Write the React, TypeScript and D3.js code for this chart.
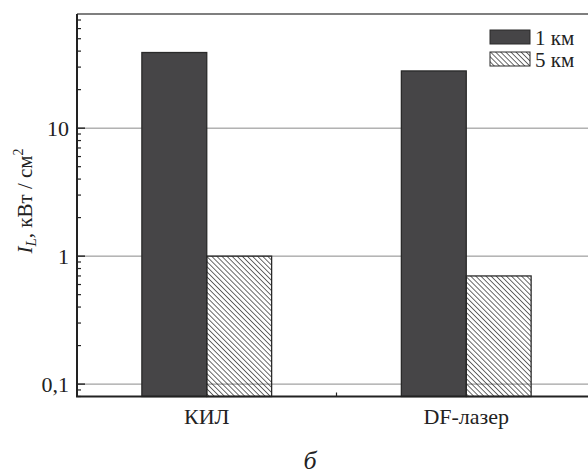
import React, { useEffect, useRef } from "react";
import * as d3 from "d3";

const categories = ["КИЛ", "DF-лазер"];
const seriesNames = ["1 км", "5 км"];
const values1km = [39, 28];
const values5km = [1.0, 0.7];
const yTickValues = [0.1, 1, 10];
const yTickLabels = ["0,1", "1", "10"];

const W = 588;
const H = 475;
const M = { left: 77, top: 14, right: 596, bottom: 396.5 };
const FONT = "'Liberation Serif', 'DejaVu Serif', serif";

export default function App() {
  const ref = useRef<SVGSVGElement>(null);

  useEffect(() => {
    const svg = d3.select(ref.current!);
    svg.selectAll("*").remove();

    const defs = svg.append("defs");
    const pat = defs
      .append("pattern")
      .attr("id", "hatch")
      .attr("patternUnits", "userSpaceOnUse")
      .attr("width", 3.6)
      .attr("height", 3.6)
      .attr("patternTransform", "rotate(-45)");
    pat
      .append("line")
      .attr("x1", 0)
      .attr("y1", 0)
      .attr("x2", 0)
      .attr("y2", 3.6)
      .attr("stroke", "#1a1a1a")
      .attr("stroke-width", 1.3);

    const y = d3.scaleLog().domain([0.08, 78]).range([M.bottom, M.top]);
    const x = d3.scaleBand<string>().domain(categories).range([M.left, M.right]).padding(0);
    const bw = x.bandwidth();
    const xs = d3.scaleBand<string>().domain(seriesNames).range([bw * 0.25, bw * 0.75]).padding(0);

    // gridlines
    svg
      .append("g")
      .selectAll("line")
      .data(yTickValues)
      .join("line")
      .attr("x1", M.left)
      .attr("x2", M.right)
      .attr("y1", (d) => y(d))
      .attr("y2", (d) => y(d))
      .attr("stroke", "#8a8a8a")
      .attr("stroke-width", 1);

    // bars
    const data = categories.map((c, i) => ({ c, v: [values1km[i], values5km[i]] }));
    const g = svg
      .append("g")
      .selectAll("g")
      .data(data)
      .join("g")
      .attr("transform", (d) => `translate(${x(d.c)},0)`);
    g.selectAll("rect")
      .data((d) => d.v.map((v, j) => ({ v, s: seriesNames[j], j })))
      .join("rect")
      .attr("x", (d) => xs(d.s)!)
      .attr("width", xs.bandwidth())
      .attr("y", (d) => y(d.v))
      .attr("height", (d) => M.bottom - y(d.v))
      .attr("fill", (d) => (d.j === 0 ? "#464547" : "url(#hatch)"))
      .attr("stroke", "#2a2a2a")
      .attr("stroke-width", 1.3);

    // top frame line
    svg
      .append("line")
      .attr("x1", M.left)
      .attr("x2", M.right)
      .attr("y1", M.top)
      .attr("y2", M.top)
      .attr("stroke", "#555")
      .attr("stroke-width", 1.5);

    // left axis
    svg
      .append("line")
      .attr("x1", M.left)
      .attr("x2", M.left)
      .attr("y1", M.top)
      .attr("y2", M.bottom)
      .attr("stroke", "#222")
      .attr("stroke-width", 2);
    const minor = y.ticks().filter((t) => !yTickValues.includes(t));
    svg
      .append("g")
      .selectAll("line")
      .data(minor)
      .join("line")
      .attr("x1", M.left)
      .attr("x2", M.left + 4)
      .attr("y1", (d) => y(d))
      .attr("y2", (d) => y(d))
      .attr("stroke", "#222")
      .attr("stroke-width", 1.2);
    svg
      .append("g")
      .selectAll("line")
      .data(yTickValues)
      .join("line")
      .attr("x1", M.left)
      .attr("x2", M.left + 8)
      .attr("y1", (d) => y(d))
      .attr("y2", (d) => y(d))
      .attr("stroke", "#222")
      .attr("stroke-width", 1.4);
    svg
      .append("g")
      .selectAll("text")
      .data(yTickValues)
      .join("text")
      .attr("x", M.left - 8)
      .attr("y", (d) => y(d))
      .attr("dy", "0.35em")
      .attr("text-anchor", "end")
      .attr("font-family", FONT)
      .attr("font-size", 22)
      .attr("fill", "#222")
      .text((d, i) => yTickLabels[i]);

    // bottom axis
    svg
      .append("line")
      .attr("x1", M.left - 1)
      .attr("x2", M.right)
      .attr("y1", M.bottom)
      .attr("y2", M.bottom)
      .attr("stroke", "#222")
      .attr("stroke-width", 2);
    const bounds = [M.left, ...categories.map((c) => x(c)! + bw)];
    svg
      .append("g")
      .selectAll("line")
      .data(bounds)
      .join("line")
      .attr("x1", (d) => d)
      .attr("x2", (d) => d)
      .attr("y1", M.bottom)
      .attr("y2", M.bottom - 4)
      .attr("stroke", "#222")
      .attr("stroke-width", 1.2);
    svg
      .append("g")
      .selectAll("text")
      .data(categories)
      .join("text")
      .attr("x", (d) => x(d)! + bw / 2)
      .attr("y", 424)
      .attr("text-anchor", "middle")
      .attr("font-family", FONT)
      .attr("font-size", 22)
      .attr("fill", "#222")
      .text((d) => d);

    // y label
    const yl = svg
      .append("text")
      .attr("transform", `translate(32,201) rotate(-90)`)
      .attr("text-anchor", "middle")
      .attr("font-family", FONT)
      .attr("font-size", 21)
      .attr("fill", "#222");
    yl.append("tspan").attr("font-style", "italic").text("I");
    yl.append("tspan").attr("font-style", "italic").attr("font-size", 15).attr("dy", 4).text("L");
    yl.append("tspan").attr("dy", -4).text(", кВт / см");
    yl.append("tspan").attr("font-size", 14).attr("dy", -9).text("2");

    // legend
    const lg = svg.append("g");
    seriesNames.forEach((s, i) => {
      const yy = 30 + i * 22;
      lg.append("rect")
        .attr("x", 490)
        .attr("y", yy)
        .attr("width", 40)
        .attr("height", 14)
        .attr("fill", i === 0 ? "#464547" : "url(#hatch)")
        .attr("stroke", "#2a2a2a")
        .attr("stroke-width", 1);
      lg.append("text")
        .attr("x", 535)
        .attr("y", yy + 15)
        .attr("font-family", FONT)
        .attr("font-size", 21)
        .attr("fill", "#222")
        .text(s);
    });

    // caption
    svg
      .append("text")
      .attr("x", 310)
      .attr("y", 469)
      .attr("text-anchor", "middle")
      .attr("font-family", FONT)
      .attr("font-style", "italic")
      .attr("font-size", 26)
      .attr("fill", "#222")
      .text("б");
  }, []);

  return (
    <svg
      ref={ref}
      width={W}
      height={H}
      style={{ position: "fixed", left: 0, top: 0, background: "#fff" }}
    />
  );
}
